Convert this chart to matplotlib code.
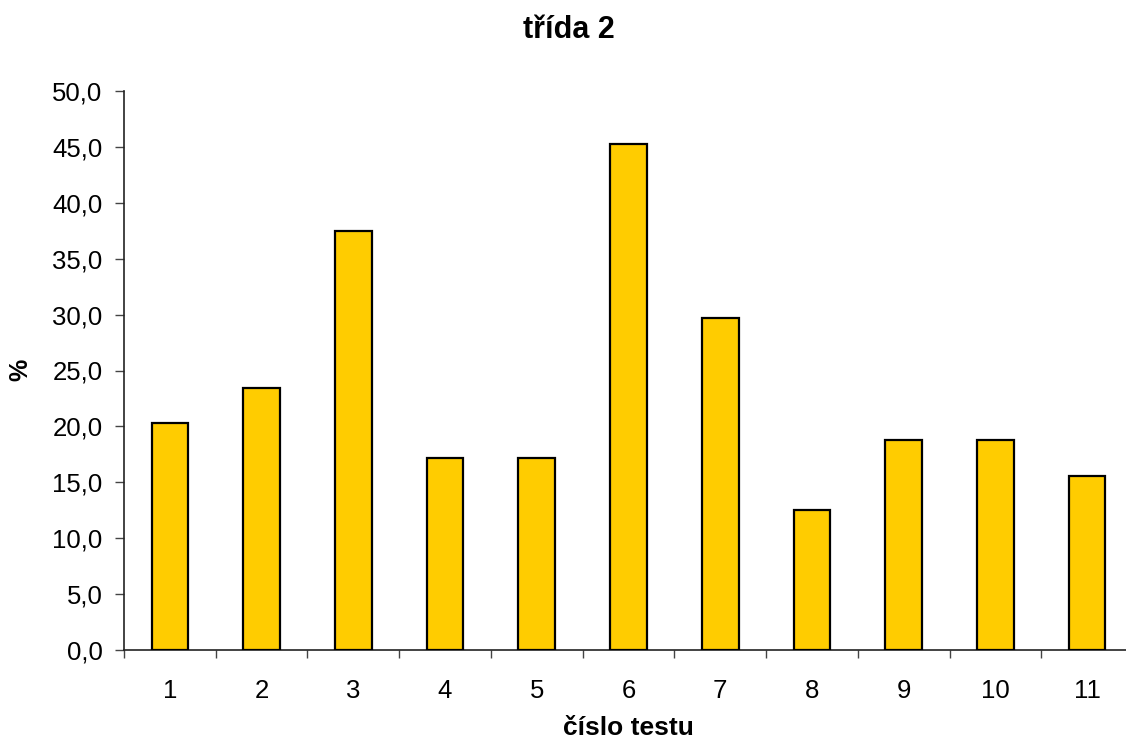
import matplotlib
matplotlib.use("Agg")
import matplotlib.pyplot as plt
import numpy as np

categories = ["1", "2", "3", "4", "5", "6", "7", "8", "9", "10", "11"]
values = [20.3, 23.4, 37.5, 17.2, 17.2, 45.3, 29.7, 12.5, 18.8, 18.8, 15.6]
yticks = [0, 5, 10, 15, 20, 25, 30, 35, 40, 45, 50]
ytick_labels = [f"{v:.1f}".replace(".", ",") for v in yticks]

plt.rcParams['font.family'] = ['Liberation Sans', 'DejaVu Sans']

fig = plt.figure(figsize=(11.26, 7.42), dpi=100)
ax = fig.add_axes([124/1126, 1 - 650/742, 1009/1126, (650 - 91)/742])

x = np.arange(len(categories))
ax.bar(x, values, width=0.40, color="#FFCC00", edgecolor="black", linewidth=1.6, zorder=3)

ax.set_xlim(-0.5, len(categories) - 0.5)
ax.set_ylim(0, 50)
ax.set_yticks(yticks)
ax.set_yticklabels(ytick_labels, fontsize=18.5)

ax.set_xticks(np.arange(-0.5, len(categories) - 0.4, 1.0))
ax.set_xticklabels([])
ax.set_xticks(x, minor=True)
ax.set_xticklabels(categories, minor=True, fontsize=18.5)
ax.tick_params(axis='x', which='major', direction='out', length=6, width=1, color='#444444')
ax.tick_params(axis='x', which='minor', length=0, pad=21)
ax.tick_params(axis='y', direction='out', length=6.5, width=1, pad=9, color='#444444')

for s in ['top', 'right']:
    ax.spines[s].set_visible(False)
for s in ['left', 'bottom']:
    ax.spines[s].set_linewidth(1.2)
    ax.spines[s].set_color('#222222')

fig.text(569/1126, 1 - 30/742, "třída 2", ha='center', va='center', fontsize=22, fontweight='bold')
fig.text(628/1126, 1 - 728/742, "číslo testu", ha='center', va='center', fontsize=19, fontweight='bold')
fig.text(20/1126, 1 - 370/742, "%", ha='center', va='center', fontsize=18, fontweight='bold', rotation=90)

fig.savefig("out.png", dpi=100)
